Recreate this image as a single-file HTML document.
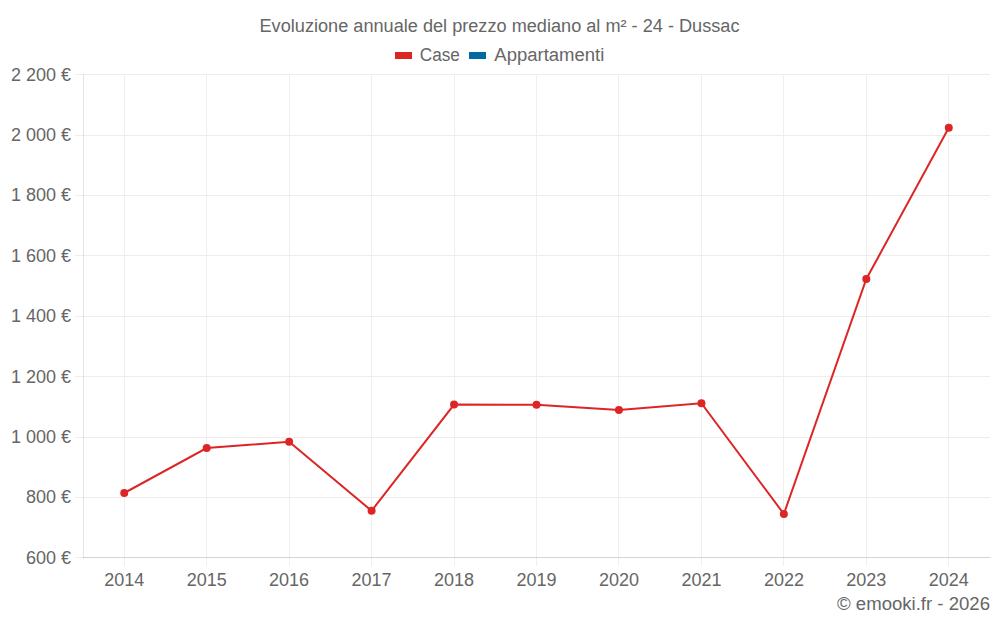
<!DOCTYPE html>
<html lang="it"><head><meta charset="utf-8"><title>Evoluzione annuale del prezzo mediano al m² - 24 - Dussac</title>
<style>
html,body{margin:0;padding:0;background:#fff;}
body{width:1000px;height:625px;overflow:hidden;font-family:"Liberation Sans",sans-serif;}
svg{display:block;position:absolute;left:0;top:0;}
text{font-family:"Liberation Sans",sans-serif;font-size:18px;fill:#666666;stroke:none;}
</style></head><body>
<svg width="1000" height="625" viewBox="0 0 1000 625">
<rect width="1000" height="625" fill="#ffffff"/>
<g shape-rendering="crispEdges">
<rect x="124" y="75" width="1" height="491" fill="#efefef"/>
<rect x="206" y="75" width="1" height="491" fill="#efefef"/>
<rect x="289" y="75" width="1" height="491" fill="#efefef"/>
<rect x="371" y="75" width="1" height="491" fill="#efefef"/>
<rect x="454" y="75" width="1" height="491" fill="#efefef"/>
<rect x="536" y="75" width="1" height="491" fill="#efefef"/>
<rect x="618" y="75" width="1" height="491" fill="#efefef"/>
<rect x="701" y="75" width="1" height="491" fill="#efefef"/>
<rect x="783" y="75" width="1" height="491" fill="#efefef"/>
<rect x="866" y="75" width="1" height="491" fill="#efefef"/>
<rect x="948" y="75" width="1" height="491" fill="#efefef"/>
<rect x="75" y="74" width="915" height="1" fill="#ededed"/>
<rect x="75" y="135" width="915" height="1" fill="#ededed"/>
<rect x="75" y="195" width="915" height="1" fill="#ededed"/>
<rect x="75" y="255" width="915" height="1" fill="#ededed"/>
<rect x="75" y="316" width="915" height="1" fill="#ededed"/>
<rect x="75" y="376" width="915" height="1" fill="#ededed"/>
<rect x="75" y="437" width="915" height="1" fill="#ededed"/>
<rect x="75" y="497" width="915" height="1" fill="#ededed"/>
<rect x="75" y="557" width="915" height="1" fill="#ededed"/>
<rect x="83" y="74" width="1" height="484" fill="#000" fill-opacity="0.1"/>
<rect x="83" y="557" width="907" height="1" fill="#000" fill-opacity="0.1"/>
<rect x="990" y="557" width="1" height="1" fill="#000" fill-opacity="0.06"/>
</g>
<polyline points="124.23,493.0 206.68,448.0 289.14,441.7 371.59,510.8 454.05,404.6 536.5,404.65 618.95,409.9 701.41,403.2 783.86,514.0 866.32,279.0 948.77,127.7" fill="none" stroke="#dc2626" stroke-width="2" stroke-linejoin="miter"/>
<circle cx="124.23" cy="493.0" r="4" fill="#dc2626"/>
<circle cx="206.68" cy="448.0" r="4" fill="#dc2626"/>
<circle cx="289.14" cy="441.7" r="4" fill="#dc2626"/>
<circle cx="371.59" cy="510.8" r="4" fill="#dc2626"/>
<circle cx="454.05" cy="404.6" r="4" fill="#dc2626"/>
<circle cx="536.5" cy="404.65" r="4" fill="#dc2626"/>
<circle cx="618.95" cy="409.9" r="4" fill="#dc2626"/>
<circle cx="701.41" cy="403.2" r="4" fill="#dc2626"/>
<circle cx="783.86" cy="514.0" r="4" fill="#dc2626"/>
<circle cx="866.32" cy="279.0" r="4" fill="#dc2626"/>
<circle cx="948.77" cy="127.7" r="4" fill="#dc2626"/>
<rect x="395" y="52" width="17" height="7" fill="#dc2626"/>
<rect x="469" y="52" width="17" height="7" fill="#0369a1"/>
<g>
<text x="259.5" y="31.7" textLength="480" lengthAdjust="spacingAndGlyphs">Evoluzione annuale del prezzo mediano al m² - 24 - Dussac</text>
<text x="419.8" y="61.3" textLength="40" lengthAdjust="spacingAndGlyphs">Case</text><text x="494.3" y="61.3" textLength="110" lengthAdjust="spacingAndGlyphs">Appartamenti</text>
<text x="71" y="80.6" text-anchor="end">2 200 €</text>
<text x="71" y="141" text-anchor="end">2 000 €</text>
<text x="71" y="201.4" text-anchor="end">1 800 €</text>
<text x="71" y="261.7" text-anchor="end">1 600 €</text>
<text x="71" y="322.1" text-anchor="end">1 400 €</text>
<text x="71" y="382.5" text-anchor="end">1 200 €</text>
<text x="71" y="442.9" text-anchor="end">1 000 €</text>
<text x="71" y="503.2" text-anchor="end">800 €</text>
<text x="71" y="563.6" text-anchor="end">600 €</text>
<text x="124.2" y="585.7" text-anchor="middle">2014</text>
<text x="206.7" y="585.7" text-anchor="middle">2015</text>
<text x="289.1" y="585.7" text-anchor="middle">2016</text>
<text x="371.6" y="585.7" text-anchor="middle">2017</text>
<text x="454.1" y="585.7" text-anchor="middle">2018</text>
<text x="536.5" y="585.7" text-anchor="middle">2019</text>
<text x="619.0" y="585.7" text-anchor="middle">2020</text>
<text x="701.4" y="585.7" text-anchor="middle">2021</text>
<text x="783.9" y="585.7" text-anchor="middle">2022</text>
<text x="866.3" y="585.7" text-anchor="middle">2023</text>
<text x="948.8" y="585.7" text-anchor="middle">2024</text>
<text x="837" y="610" textLength="153" lengthAdjust="spacingAndGlyphs">© emooki.fr - 2026</text>
</g>
</svg></body></html>
